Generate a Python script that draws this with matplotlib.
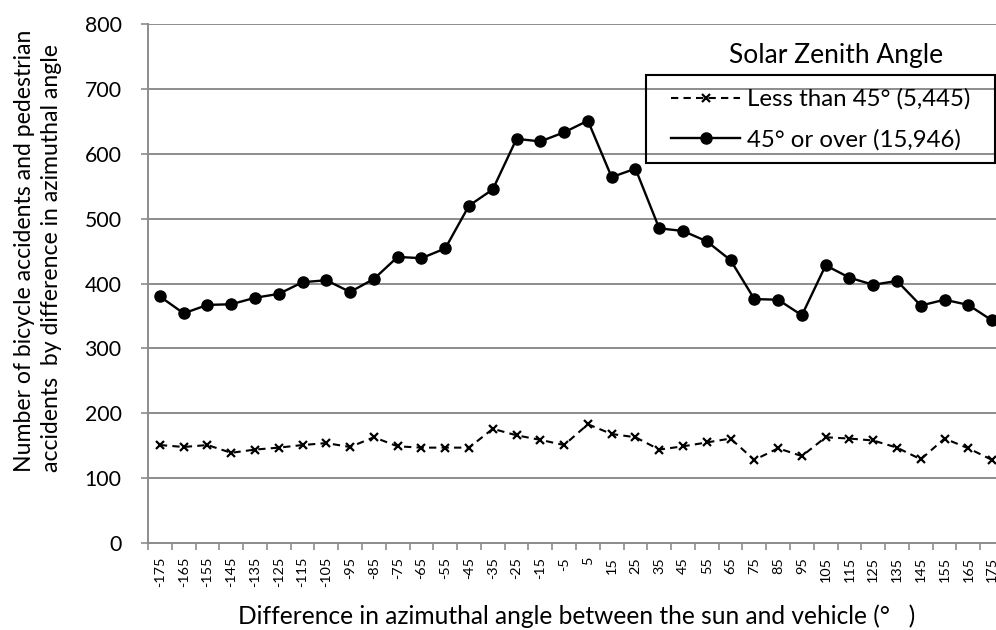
import numpy as np
import matplotlib
matplotlib.use("Agg")
import matplotlib.pyplot as plt
from matplotlib.patches import Rectangle

plt.rcParams['font.family'] = ['Lato', 'DejaVu Sans']

# azimuth difference categories (deg)
angles = list(range(-175, 176, 10))

# Solar zenith angle >= 45 deg (15,946)
over_45 = [380, 354, 367, 368, 378, 384, 402, 405, 387, 407,
           441, 439, 454, 520, 545, 623, 619, 633, 651, 564,
           577, 485, 481, 465, 436, 376, 375, 351, 428, 409,
           398, 404, 366, 375, 367, 343]

# Solar zenith angle < 45 deg (5,445)
under_45 = [151, 148, 151, 139, 144, 147, 151, 154, 148, 163,
            149, 147, 147, 147, 176, 166, 159, 151, 183, 168,
            163, 144, 149, 155, 161, 128, 146, 134, 163, 161,
            158, 147, 129, 161, 146, 128]

labels = ['Less than 45° (5,445)', '45° or over (15,946)']
legend_title = 'Solar Zenith Angle'
xlabel = 'Difference in azimuthal angle between the sun and vehicle (°   )'
ylabel = ('Number of bicycle accidents and pedestrian\n'
          'accidents  by difference in azimuthal angle')

W, H = 996, 630
grid_col = '#8c8c8c'

fig = plt.figure(figsize=(W / 100, H / 100), dpi=100)
renderer = fig.canvas.get_renderer()


def size_for(s, target_px, ref=20):
    # font size that makes string s target_px wide
    t = fig.text(0, 0, s, fontsize=ref)
    w = t.get_window_extent(renderer).width
    t.remove()
    return ref * target_px / w


def fx(px):
    return px / W


def fy(px):
    return 1 - px / H


ax = fig.add_axes([fx(148), fy(543), fx(1004 - 148), (543 - 24) / H])

x = np.arange(len(angles))
ax.plot(x, under_45, color='black', linestyle=(0, (3.5, 2.5)), linewidth=1.5,
        marker='x', markersize=6, markeredgewidth=1.6, label=labels[0])
ax.plot(x, over_45, color='black', linestyle='-', linewidth=1.7,
        marker='o', markersize=8, label=labels[1])

ax.set_ylim(0, 800)
ax.set_yticks(range(0, 801, 100))
ax.set_xlim(-0.5, len(angles) - 0.5)
ax.set_xticks(x)
ax.set_xticklabels([str(a) for a in angles], rotation=90,
                   fontsize=size_for('135', 25))
ax.set_xticks(np.arange(-0.5, len(angles), 1), minor=True)
ax.tick_params(axis='x', which='major', length=0, pad=10)
ax.tick_params(axis='x', which='minor', length=5, color=grid_col, width=1.2)
ax.tick_params(axis='y', length=5, color=grid_col, width=1.2,
               labelsize=size_for('800', 37), pad=14)

ax.grid(axis='y', color=grid_col, linewidth=1.4)
ax.set_axisbelow(True)
for s in ['top', 'right']:
    ax.spines[s].set_visible(False)
for s in ['left', 'bottom']:
    ax.spines[s].set_color(grid_col)
    ax.spines[s].set_linewidth(1.4)

# axis titles
fig.text(fx(577), fy(616), xlabel, fontsize=size_for(xlabel, 680),
         ha='center', va='center')
fig.text(fx(38), fy(472), ylabel, rotation=90, ha='center', va='bottom',
         multialignment='left', linespacing=1.3,
         fontsize=size_for(ylabel.split('\n')[0], 442))

# legend: frame drawn separately, title outside the frame
leg_fs = size_for(labels[0], 224)
leg_px = leg_fs * 100 / 72
leg = ax.legend(loc='center left', bbox_to_anchor=(fx(671), fy(119.5)),
                bbox_transform=fig.transFigure, fontsize=leg_fs,
                frameon=False, borderpad=0, borderaxespad=0,
                handlelength=69 / leg_px, handletextpad=7 / leg_px,
                labelspacing=(45 - leg_px) / leg_px * 0.9)
fig.patches.append(Rectangle((fx(646), fy(163)), fx(995 - 646), (163 - 75) / H,
                             transform=fig.transFigure, fill=False,
                             edgecolor='black', linewidth=1.5))
fig.text(fx(836), fy(56), legend_title, fontsize=size_for(legend_title, 214),
         ha='center', va='center')

fig.savefig('out.png', dpi=100)
